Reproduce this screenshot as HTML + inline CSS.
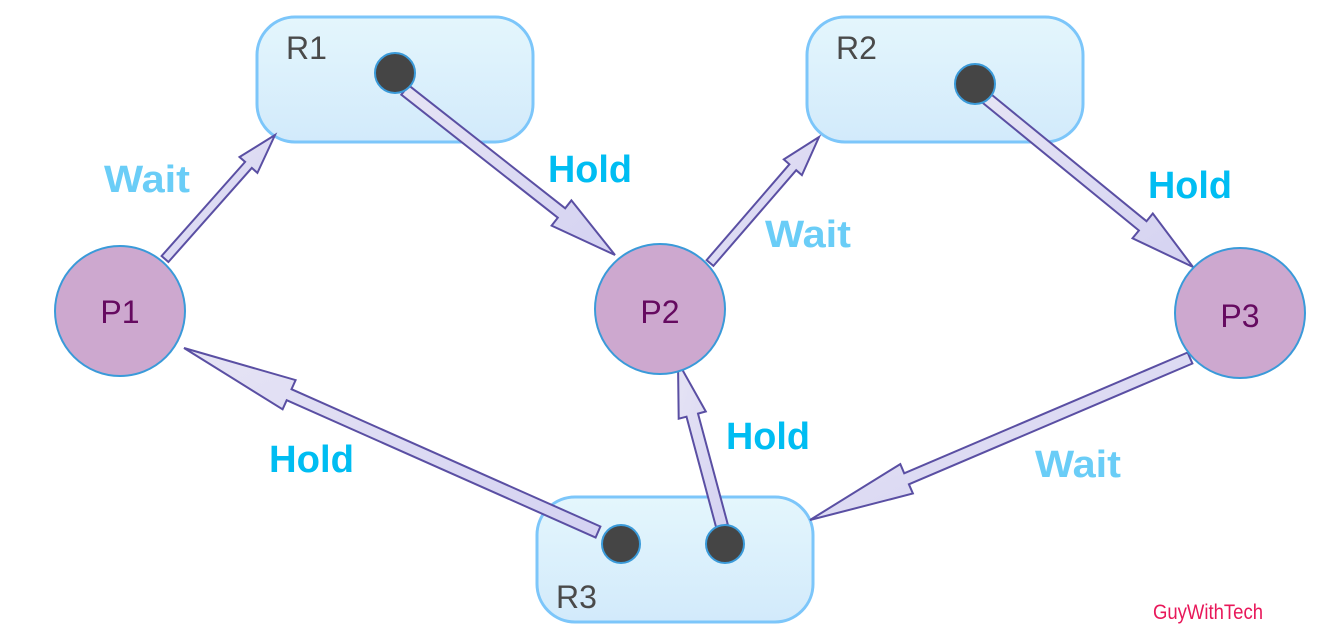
<!DOCTYPE html>
<html><head><meta charset="utf-8"><style>
html,body{margin:0;padding:0;background:#fff;}
svg{display:block;}
</style></head><body>
<svg id="s" width="1320" height="640" viewBox="0 0 1320 640" xmlns="http://www.w3.org/2000/svg">
<defs>
<linearGradient id="rg" x1="0" y1="0" x2="0" y2="1">
<stop offset="0" stop-color="#e4f6fc"/><stop offset="1" stop-color="#d2eafb"/>
</linearGradient>
<linearGradient id="ag" x1="0" y1="0" x2="1" y2="1">
<stop offset="0" stop-color="#e6e4f4"/><stop offset="1" stop-color="#d4d2f2"/>
</linearGradient>
</defs>
<g fill="url(#rg)" stroke="#7cc6fa" stroke-width="3">
<rect x="257" y="17" width="276" height="125" rx="38"/>
<rect x="807" y="17" width="276" height="125" rx="38"/>
<rect x="537" y="497" width="276" height="125" rx="38"/>
</g>
<g font-family="Liberation Sans, sans-serif" font-size="32" fill="#4a4a4a">
<text x="286" y="59">R1</text>
<text x="836" y="59">R2</text>
<text x="556" y="608">R3</text>
</g>
<g id="arrows" fill="url(#ag)" stroke="#5a4fa3" stroke-width="2" stroke-linejoin="miter"></g>
<g fill="#454545" stroke="#3a9ad9" stroke-width="2">
<circle cx="395" cy="73" r="20"/>
<circle cx="975" cy="84" r="20"/>
<circle cx="621" cy="544" r="19"/>
<circle cx="725" cy="544" r="19"/>
</g>
<g fill="#cda8cf" stroke="#3a9ad9" stroke-width="2">
<circle cx="120" cy="311" r="65"/>
<circle cx="660" cy="309" r="65"/>
<circle cx="1240" cy="313" r="65"/>
</g>
<g font-family="Liberation Sans, sans-serif" font-size="32" fill="#650a60" text-anchor="middle">
<text x="120" y="323">P1</text>
<text x="660" y="323">P2</text>
<text x="1240" y="327">P3</text>
</g>
<g font-family="Liberation Sans, sans-serif" font-size="38" font-weight="bold">
<text x="104" y="192" fill="#6acdf7" textLength="86" lengthAdjust="spacingAndGlyphs">Wait</text>
<text x="548" y="182" fill="#00bdf2" textLength="84" lengthAdjust="spacingAndGlyphs">Hold</text>
<text x="765" y="247" fill="#6acdf7" textLength="86" lengthAdjust="spacingAndGlyphs">Wait</text>
<text x="1148" y="198" fill="#00bdf2" textLength="84" lengthAdjust="spacingAndGlyphs">Hold</text>
<text x="269" y="472" fill="#00bdf2" textLength="85" lengthAdjust="spacingAndGlyphs">Hold</text>
<text x="726" y="449" fill="#00bdf2" textLength="84" lengthAdjust="spacingAndGlyphs">Hold</text>
<text x="1035" y="477" fill="#6acdf7" textLength="86" lengthAdjust="spacingAndGlyphs">Wait</text>
</g>
<text x="1153" y="619" font-family="Liberation Sans Narrow, Liberation Sans, sans-serif" font-size="21" fill="#e8185a" textLength="110" lengthAdjust="spacingAndGlyphs">GuyWithTech</text>
</svg>
<script>
var A=[
[165,259,275,135,9,24,40],
[405,90,615,255,12,32,68],
[710,263,819,137,9,24,40],
[985,97,1193,267,12,32,65],
[1190,358,810,520,12,32,105],
[598,532,184,348,12,32,115],
[722,526,678,362,12,28,55]
];
var g=document.getElementById('arrows'),ns='http://www.w3.org/2000/svg';
A.forEach(function(a){
var x0=a[0],y0=a[1],x1=a[2],y1=a[3],w=a[4]/2,hw=a[5]/2,hl=a[6];
var dx=x1-x0,dy=y1-y0,L=Math.sqrt(dx*dx+dy*dy),ux=dx/L,uy=dy/L,px=-uy,py=ux;
var bx=x1-ux*hl,by=y1-uy*hl;
var p=[[x0+px*w,y0+py*w],[bx+px*w,by+py*w],[bx+px*hw,by+py*hw],[x1,y1],[bx-px*hw,by-py*hw],[bx-px*w,by-py*w],[x0-px*w,y0-py*w]];
var e=document.createElementNS(ns,'polygon');
e.setAttribute('points',p.map(function(q){return q[0].toFixed(1)+','+q[1].toFixed(1)}).join(' '));
g.appendChild(e);
});
</script>
</body></html>
